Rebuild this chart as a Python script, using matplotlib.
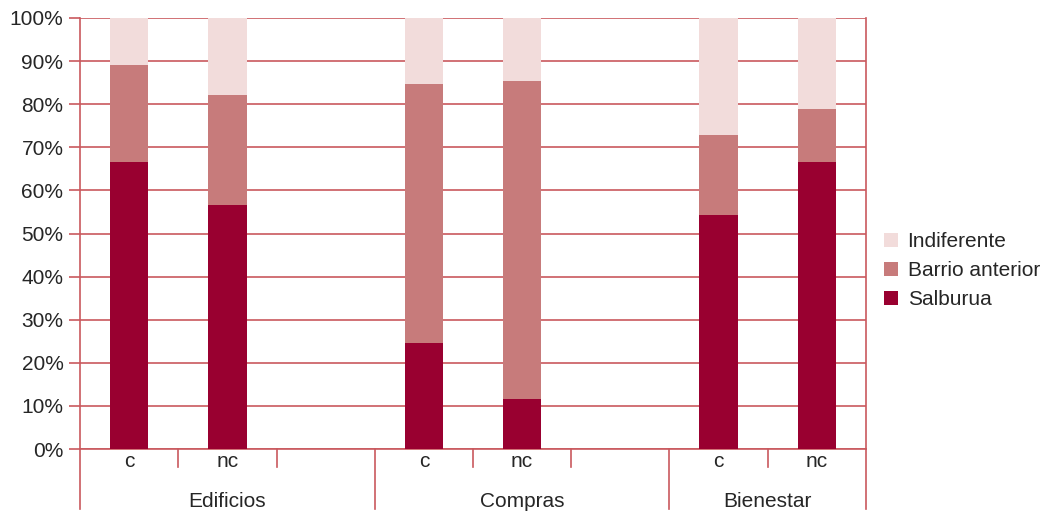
import matplotlib
matplotlib.use('Agg')
import matplotlib.pyplot as plt
from matplotlib.ticker import PercentFormatter

plt.rcParams['font.family'] = ['Liberation Sans', 'DejaVu Sans']

# data (percent of answers)
groups = ['Edificios', 'Compras', 'Bienestar']
sub_labels = ['c', 'nc']
# slot index of each bar (8 slots, third slot of first two groups is empty)
slots = [0, 1, 3, 4, 6, 7]
group_slots = [(0, 3), (3, 6), (6, 8)]

salburua = [66.5, 56.7, 24.7, 11.7, 54.4, 66.5]
barrio = [22.5, 25.5, 60.1, 73.6, 18.5, 12.3]
indiferente = [11.0, 17.8, 15.2, 14.7, 27.1, 21.2]

c_salb = '#990030'
c_barrio = '#C77B7B'
c_indif = '#F2DCDB'
c_line = '#C9595E'
c_text = '#262626'

fig = plt.figure(figsize=(10.45, 5.11), dpi=100)
ax = fig.add_axes([0.0766, 0.1213, 0.752, 0.8435])

x = [s + 0.5 for s in slots]
w = 0.39
bottom2 = [a + b for a, b in zip(salburua, barrio)]
b1 = ax.bar(x, salburua, w, color=c_salb, zorder=3, label='Salburua')
b2 = ax.bar(x, barrio, w, bottom=salburua, color=c_barrio, zorder=3, label='Barrio anterior')
b3 = ax.bar(x, indiferente, w, bottom=bottom2, color=c_indif, zorder=3, label='Indiferente')

ax.set_xlim(0, 8)
ax.set_ylim(0, 100)
ax.set_yticks(range(0, 101, 10))
ax.yaxis.set_major_formatter(PercentFormatter(decimals=0))
ax.grid(axis='y', color=c_line, linewidth=1.2, zorder=0)
ax.tick_params(axis='y', colors=c_line, length=8, width=1.2, labelcolor=c_text,
               labelsize=15, pad=4)

ax.set_xticks(x)
ax.set_xticklabels(sub_labels * len(groups))
ax.tick_params(axis='x', length=0, labelsize=15, labelcolor=c_text, pad=2)

ax.spines['top'].set_visible(False)
for side in ['left', 'right', 'bottom']:
    ax.spines[side].set_color(c_line)
    ax.spines[side].set_linewidth(1.2)

tr = ax.get_xaxis_transform()
# minor separators between sub categories
for a, b in group_slots:
    for s in range(a + 1, b):
        ax.plot([s, s], [0, -0.042], transform=tr, color=c_line, lw=1.2, clip_on=False)
# group separators
edges = sorted(set([a for a, b in group_slots] + [b for a, b in group_slots]))
for e in edges:
    ax.plot([e, e], [0, -0.139], transform=tr, color=c_line, lw=1.2, clip_on=False)
for g, (a, b) in zip(groups, group_slots):
    ax.text((a + b) / 2, -0.122, g, transform=tr, ha='center', va='center',
            fontsize=15, color=c_text)

fig.legend(handles=[b3, b2, b1], loc='center left', bbox_to_anchor=(0.828, 0.47),
           frameon=False, fontsize=15, handlelength=0.68, handleheight=0.68,
           handletextpad=0.45, labelspacing=0.48, labelcolor=c_text)

fig.savefig('out.png', dpi=100)
